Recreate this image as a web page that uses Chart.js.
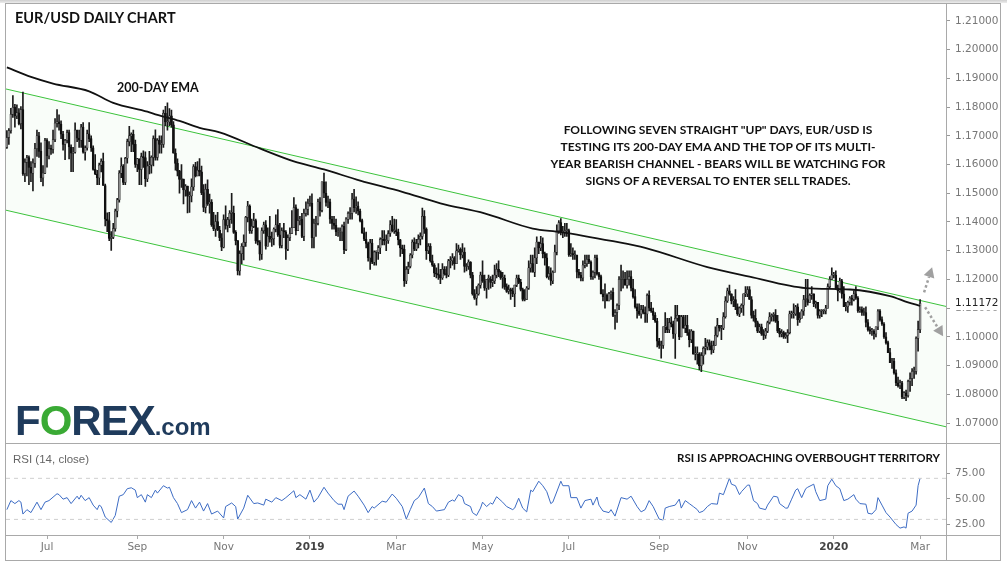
<!DOCTYPE html>
<html>
<head>
<meta charset="utf-8">
<title>EUR/USD Daily Chart</title>
<script src="https://cdn.jsdelivr.net/npm/chart.js@4.4.0/dist/chart.umd.min.js"></script>
<style>
  html, body { margin: 0; padding: 0; }
  body { width: 1007px; height: 563px; overflow: hidden; background: #fff; position: relative; font-family: "Lato", "Liberation Sans", sans-serif; }
  canvas { position: absolute; left: 0; }
  #main { top: 0; }
  #rsi { top: 443px; }
  .line { position: absolute; background: #a9a9a9; }
  .txt { position: absolute; color: #111; font-weight: bold; white-space: nowrap; }
  #topStrip { position: absolute; left: 0; top: 0; width: 1007px; height: 3px; background: linear-gradient(#cfcfcf, #ececec); }
  #frame { position: absolute; left: 5px; top: 3px; width: 996px; height: 558px; border: 1px solid #a9a9a9; box-sizing: border-box; pointer-events: none; }
  #logo { position: absolute; left: 15px; top: 400px; font-family: "Liberation Sans", Arial, sans-serif; font-weight: bold; font-size: 42px; line-height: 42px; color: #1f3b5c; letter-spacing: -1px; white-space: nowrap; }
  #logo .o { color: #3aaa35; }
  #logo .com { font-size: 24px; letter-spacing: 0; }
</style>
</head>
<body>
<div id="topStrip"></div>
<canvas id="main" width="1007" height="443"></canvas>
<canvas id="rsi" width="1007" height="120"></canvas>
<div id="frame"></div>
<div class="line" style="left:946px;top:3px;width:1px;height:557px;"></div>
<div class="line" style="left:5px;top:443px;width:995px;height:1px;"></div>
<div class="line" style="left:5px;top:535px;width:995px;height:1px;"></div>

<div class="txt" style="left:15px;top:9px;font-size:14.5px;line-height:18px;">EUR/USD DAILY CHART</div>
<div class="txt" style="left:117px;top:80px;font-size:12.5px;line-height:16px;">200-DAY EMA</div>
<div class="txt" style="left:518px;top:121px;width:400px;text-align:center;font-size:12px;line-height:17px;">
  FOLLOWING SEVEN STRAIGHT "UP" DAYS, EUR/USD IS<br>
  TESTING ITS 200-DAY EMA AND THE TOP OF ITS MULTI-<br>
  YEAR BEARISH CHANNEL - BEARS WILL BE WATCHING FOR<br>
  SIGNS OF A REVERSAL TO ENTER SELL TRADES.
</div>
<div id="logo">F<span class="o">O</span>REX<span class="com">.com</span></div>
<div class="txt" style="left:13px;top:452px;font-size:11.5px;line-height:14px;font-weight:normal;color:#666;font-family:'Liberation Sans',Arial,sans-serif;">RSI (14, close)</div>
<div class="txt" style="right:67px;top:451px;font-size:11.5px;line-height:14px;">RSI IS APPROACHING OVERBOUGHT TERRITORY</div>

<script>
// first trading day shown, daily bars on weekdays
const startDate = '2018-06-04';
const firstOpen = 1.1660;
const lastPrice = 1.11172;

// daily closes, Jun 2018 .. Mar 2 2020 (one line per month)
const closes = [
  1.1694,1.1718,1.1775,1.1799,1.1769,1.1780,1.1742,1.1791,1.1568,1.1608,1.1624,1.1590,1.1570,1.1605,1.1655,1.1700,1.1646,1.1553,1.1570,1.1684,
  1.1630,1.1656,1.1653,1.1687,1.1744,1.1749,1.1741,1.1706,1.1670,1.1684,1.1711,1.1661,1.1640,1.1643,1.1720,1.1692,1.1685,1.1730,1.1643,1.1658,1.1707,1.1690,
  1.1658,1.1583,1.1567,1.1553,1.1598,1.1611,1.1527,1.1410,1.1405,1.1343,1.1346,1.1377,1.1438,1.1477,1.1570,1.1595,1.1538,1.1622,1.1680,1.1700,1.1705,1.1670,1.1600,
  1.1620,1.1583,1.1628,1.1624,1.1550,1.1595,1.1599,1.1625,1.1690,1.1625,1.1684,1.1670,1.1670,1.1778,1.1748,1.1748,1.1770,1.1738,1.1640,1.1604,
  1.1577,1.1548,1.1549,1.1512,1.1525,1.1490,1.1491,1.1522,1.1593,1.1560,1.1580,1.1575,1.1502,1.1451,1.1514,1.1463,1.1469,1.1390,1.1376,1.1401,1.1372,1.1345,1.1312,
  1.1408,1.1388,1.1408,1.1430,1.1430,1.1364,1.1335,1.1230,1.1290,1.1315,1.1329,1.1416,1.1455,1.1370,1.1385,1.1405,1.1335,1.1330,1.1288,1.1370,1.1390,1.1316,
  1.1350,1.1340,1.1342,1.1375,1.1390,1.1355,1.1318,1.1370,1.1365,1.1305,1.1345,1.1360,1.1380,1.1450,1.1370,1.1405,1.1410,1.1350,1.1430,1.1445,1.1465,
  1.1465,1.1345,1.1395,1.1395,1.1470,1.1440,1.1540,1.1500,1.1468,1.1470,1.1410,1.1395,1.1388,1.1365,1.1365,1.1365,1.1385,1.1304,1.1410,1.1430,1.1430,1.1480,1.1450,
  1.1455,1.1438,1.1405,1.1362,1.1340,1.1325,1.1275,1.1327,1.1260,1.1295,1.1295,1.1310,1.1340,1.1340,1.1335,1.1335,1.1360,1.1390,1.1370,1.1370,
  1.1365,1.1338,1.1310,1.1305,1.1195,1.1235,1.1245,1.1285,1.1330,1.1305,1.1325,1.1340,1.1350,1.1420,1.1375,1.1300,1.1315,1.1265,1.1250,1.1222,1.1218,
  1.1215,1.1205,1.1235,1.1220,1.1215,1.1265,1.1265,1.1275,1.1255,1.1300,1.1305,1.1285,1.1295,1.1245,1.1245,1.1260,1.1215,1.1150,1.1135,1.1150,1.1180,1.1215,
  1.1195,1.1170,1.1200,1.1200,1.1190,1.1195,1.1215,1.1235,1.1225,1.1205,1.1205,1.1175,1.1158,1.1165,1.1160,1.1150,1.1180,1.1205,1.1190,1.1165,1.1130,1.1130,1.1170,
  1.1240,1.1255,1.1225,1.1275,1.1330,1.1310,1.1325,1.1290,1.1275,1.1210,1.1220,1.1195,1.1225,1.1295,1.1370,1.1398,1.1365,1.1365,1.1370,1.1370,
  1.1285,1.1290,1.1285,1.1285,1.1225,1.1215,1.1205,1.1250,1.1255,1.1270,1.1260,1.1210,1.1225,1.1275,1.1220,1.1210,1.1150,1.1140,1.1145,1.1125,1.1150,1.1155,1.1075,
  1.1085,1.1110,1.1200,1.1200,1.1200,1.1180,1.1200,1.1210,1.1170,1.1140,1.1105,1.1090,1.1080,1.1095,1.1085,1.1080,1.1145,1.1100,1.1090,1.1075,1.1055,1.0985,
  1.0970,1.0970,1.1035,1.1035,1.1025,1.1050,1.1045,1.1010,1.1065,1.1075,1.1000,1.1070,1.1030,1.1040,1.1015,1.0990,1.1020,1.0940,1.0940,1.0940,1.0900,
  1.0935,1.0960,1.0965,1.0980,1.0970,1.0955,1.0970,1.1005,1.1040,1.1030,1.1030,1.1070,1.1125,1.1160,1.1150,1.1125,1.1130,1.1105,1.1080,1.1100,1.1110,1.1150,1.1150,
  1.1165,1.1130,1.1075,1.1065,1.1050,1.1020,1.1035,1.1010,1.1005,1.1020,1.1050,1.1070,1.1075,1.1075,1.1055,1.1020,1.1010,1.1015,1.1000,1.1005,1.1015,
  1.1080,1.1080,1.1080,1.1105,1.1060,1.1065,1.1090,1.1130,1.1130,1.1120,1.1145,1.1150,1.1115,1.1120,1.1075,1.1090,1.1090,1.1090,1.1100,1.1175,1.1200,1.1215,
  1.1215,1.1170,1.1160,1.1195,1.1150,1.1105,1.1105,1.1120,1.1135,1.1130,1.1150,1.1135,1.1090,1.1095,1.1085,1.1085,1.1050,1.1025,1.1020,1.1020,1.1010,1.1035,1.1090,
  1.1060,1.1045,1.1000,1.0980,1.0945,1.0910,1.0915,1.0875,1.0840,1.0830,1.0840,1.0790,1.0805,1.0795,1.0845,1.0855,1.0880,1.0880,1.0995,1.1025,
  1.1117
];

const highs = [
  1.1718,1.1725,1.1796,1.1840,1.1810,1.1808,1.1795,1.1802,1.1852,1.1620,1.1632,1.1630,1.1610,1.1620,1.1674,1.1720,1.1712,1.1676,1.1596,1.1691,
  1.1690,1.1680,1.1668,1.1720,1.1760,1.1791,1.1773,1.1752,1.1716,1.1688,1.1720,1.1720,1.1669,1.1660,1.1745,1.1720,1.1720,1.1740,1.1746,1.1665,1.1720,1.1746,
  1.1700,1.1665,1.1635,1.1580,1.1605,1.1620,1.1640,1.1532,1.1432,1.1434,1.1367,1.1395,1.1445,1.1482,1.1579,1.1623,1.1600,1.1625,1.1689,1.1733,1.1710,1.1720,1.1685,
  1.1622,1.1620,1.1640,1.1648,1.1644,1.1610,1.1646,1.1630,1.1700,1.1721,1.1690,1.1700,1.1700,1.1790,1.1803,1.1815,1.1795,1.1790,1.1750,1.1655,
  1.1620,1.1580,1.1600,1.1545,1.1530,1.1505,1.1505,1.1550,1.1600,1.1608,1.1610,1.1621,1.1595,1.1530,1.1532,1.1547,1.1497,1.1478,1.1434,1.1424,1.1434,1.1385,1.1360,
  1.1425,1.1456,1.1416,1.1440,1.1500,1.1455,1.1370,1.1335,1.1300,1.1325,1.1355,1.1420,1.1472,1.1460,1.1410,1.1430,1.1410,1.1380,1.1335,1.1380,1.1400,1.1405,
  1.1380,1.1420,1.1365,1.1380,1.1425,1.1443,1.1395,1.1380,1.1395,1.1370,1.1355,1.1380,1.1440,1.1485,1.1460,1.1445,1.1420,1.1430,1.1445,1.1470,1.1480,
  1.1490,1.1498,1.1410,1.1420,1.1480,1.1485,1.1540,1.1570,1.1540,1.1490,1.1480,1.1420,1.1420,1.1410,1.1380,1.1380,1.1390,1.1400,1.1415,1.1435,1.1450,1.1500,1.1514,
  1.1488,1.1470,1.1445,1.1410,1.1380,1.1365,1.1330,1.1340,1.1340,1.1300,1.1300,1.1318,1.1345,1.1370,1.1370,1.1355,1.1370,1.1405,1.1420,1.1410,
  1.1408,1.1375,1.1340,1.1320,1.1320,1.1245,1.1260,1.1290,1.1338,1.1345,1.1340,1.1355,1.1362,1.1448,1.1440,1.1380,1.1325,1.1325,1.1285,1.1255,1.1240,
  1.1255,1.1235,1.1255,1.1245,1.1245,1.1270,1.1280,1.1290,1.1280,1.1325,1.1320,1.1310,1.1325,1.1310,1.1255,1.1268,1.1262,1.1225,1.1165,1.1175,1.1185,1.1226,
  1.1265,1.1215,1.1200,1.1215,1.1210,1.1215,1.1250,1.1255,1.1265,1.1230,1.1225,1.1215,1.1185,1.1180,1.1170,1.1170,1.1175,1.1215,1.1215,1.1200,1.1170,1.1165,1.1175,
  1.1265,1.1285,1.1285,1.1310,1.1348,1.1330,1.1350,1.1345,1.1295,1.1290,1.1245,1.1240,1.1230,1.1320,1.1390,1.1405,1.1412,1.1385,1.1395,1.1395,
  1.1375,1.1325,1.1310,1.1300,1.1285,1.1235,1.1225,1.1265,1.1285,1.1285,1.1285,1.1265,1.1230,1.1285,1.1285,1.1225,1.1215,1.1165,1.1185,1.1150,1.1155,1.1160,1.1170,
  1.1095,1.1115,1.1210,1.1250,1.1230,1.1225,1.1230,1.1230,1.1230,1.1200,1.1165,1.1115,1.1115,1.1110,1.1110,1.1105,1.1150,1.1160,1.1120,1.1100,1.1085,1.1065,
  1.0995,1.0985,1.1035,1.1085,1.1065,1.1065,1.1070,1.1055,1.1110,1.1110,1.1070,1.1075,1.1075,1.1075,1.1075,1.1025,1.1025,1.1015,1.0965,1.0965,1.0945,
  1.0945,1.0965,1.0995,1.0990,1.0990,1.0985,1.0985,1.1035,1.1065,1.1040,1.1040,1.1085,1.1140,1.1170,1.1180,1.1150,1.1140,1.1165,1.1115,1.1105,1.1115,1.1145,1.1175,
  1.1175,1.1175,1.1140,1.1090,1.1095,1.1055,1.1045,1.1045,1.1025,1.1030,1.1055,1.1085,1.1080,1.1085,1.1095,1.1075,1.1030,1.1025,1.1020,1.1015,1.1025,
  1.1090,1.1090,1.1115,1.1110,1.1115,1.1085,1.1095,1.1145,1.1200,1.1200,1.1150,1.1175,1.1150,1.1125,1.1120,1.1095,1.1095,1.1095,1.1110,1.1185,1.1210,1.1240,
  1.1225,1.1230,1.1180,1.1205,1.1200,1.1175,1.1120,1.1125,1.1140,1.1145,1.1160,1.1175,1.1140,1.1105,1.1105,1.1100,1.1105,1.1060,1.1035,1.1030,1.1025,1.1035,1.1095,
  1.1095,1.1070,1.1050,1.1015,1.0985,1.0960,1.0925,1.0925,1.0885,1.0860,1.0850,1.0845,1.0810,1.0815,1.0850,1.0875,1.0890,1.0895,1.1000,1.1055,
  1.1130
];

const lows = [
  1.1656,1.1670,1.1709,1.1764,1.1730,1.1760,1.1738,1.1724,1.1562,1.1540,1.1560,1.1530,1.1540,1.1508,1.1590,1.1628,1.1625,1.1540,1.1526,1.1568,
  1.1591,1.1620,1.1635,1.1640,1.1680,1.1730,1.1720,1.1690,1.1650,1.1617,1.1675,1.1620,1.1575,1.1575,1.1640,1.1680,1.1660,1.1660,1.1640,1.1615,1.1650,1.1680,
  1.1646,1.1580,1.1565,1.1530,1.1530,1.1574,1.1528,1.1386,1.1366,1.1335,1.1301,1.1342,1.1368,1.1418,1.1469,1.1554,1.1530,1.1530,1.1605,1.1665,1.1645,1.1645,1.1590,
  1.1575,1.1530,1.1530,1.1590,1.1524,1.1540,1.1567,1.1570,1.1595,1.1615,1.1615,1.1640,1.1640,1.1660,1.1735,1.1720,1.1735,1.1730,1.1640,1.1580,
  1.1560,1.1500,1.1520,1.1463,1.1490,1.1432,1.1433,1.1470,1.1510,1.1557,1.1560,1.1560,1.1495,1.1436,1.1432,1.1458,1.1431,1.1385,1.1370,1.1350,1.1370,1.1335,1.1300,
  1.1310,1.1375,1.1365,1.1380,1.1395,1.1360,1.1320,1.1216,1.1215,1.1255,1.1268,1.1315,1.1400,1.1360,1.1360,1.1380,1.1325,1.1320,1.1267,1.1270,1.1360,1.1305,
  1.1320,1.1330,1.1315,1.1320,1.1365,1.1350,1.1310,1.1310,1.1345,1.1270,1.1300,1.1335,1.1360,1.1390,1.1355,1.1375,1.1390,1.1345,1.1335,1.1420,1.1425,
  1.1455,1.1310,1.1310,1.1350,1.1390,1.1420,1.1435,1.1485,1.1455,1.1450,1.1395,1.1375,1.1375,1.1352,1.1350,1.1335,1.1335,1.1290,1.1300,1.1395,1.1410,1.1410,1.1435,
  1.1430,1.1425,1.1400,1.1360,1.1335,1.1310,1.1264,1.1235,1.1255,1.1250,1.1250,1.1270,1.1290,1.1320,1.1320,1.1300,1.1325,1.1350,1.1365,1.1360,
  1.1352,1.1320,1.1280,1.1290,1.1176,1.1185,1.1220,1.1240,1.1275,1.1300,1.1300,1.1310,1.1320,1.1340,1.1360,1.1270,1.1290,1.1260,1.1245,1.1210,1.1205,
  1.1200,1.1185,1.1200,1.1215,1.1205,1.1210,1.1240,1.1250,1.1235,1.1255,1.1295,1.1270,1.1275,1.1225,1.1230,1.1235,1.1205,1.1145,1.1130,1.1110,1.1145,1.1170,
  1.1190,1.1162,1.1135,1.1165,1.1170,1.1175,1.1185,1.1205,1.1210,1.1200,1.1170,1.1165,1.1155,1.1150,1.1130,1.1140,1.1105,1.1175,1.1185,1.1160,1.1125,1.1125,1.1135,
  1.1165,1.1225,1.1225,1.1210,1.1255,1.1290,1.1300,1.1275,1.1250,1.1205,1.1200,1.1180,1.1185,1.1225,1.1285,1.1360,1.1355,1.1345,1.1350,1.1350,
  1.1280,1.1280,1.1270,1.1270,1.1205,1.1205,1.1195,1.1195,1.1240,1.1245,1.1255,1.1200,1.1200,1.1205,1.1215,1.1200,1.1150,1.1125,1.1100,1.1125,1.1125,1.1130,1.1070,
  1.1027,1.1050,1.1095,1.1160,1.1170,1.1180,1.1170,1.1180,1.1160,1.1135,1.1100,1.1065,1.1075,1.1065,1.1080,1.1050,1.1050,1.1090,1.1085,1.1060,1.1050,1.0965,
  1.0960,1.0926,1.0960,1.1015,1.1015,1.1015,1.1035,1.0995,1.0925,1.1055,1.0990,1.1000,1.1030,1.1015,1.1005,1.0965,1.0980,1.0940,1.0920,1.0905,1.0885,
  1.0879,1.0905,1.0940,1.0955,1.0955,1.0940,1.0945,1.0970,1.1000,1.1020,1.0990,1.1025,1.1065,1.1120,1.1145,1.1115,1.1105,1.1095,1.1075,1.1070,1.1085,1.1075,1.1140,
  1.1140,1.1130,1.1065,1.1055,1.1035,1.1015,1.1015,1.1005,1.0990,1.0995,1.1015,1.1045,1.1055,1.1055,1.1050,1.1015,1.1000,1.1000,1.0995,1.0995,1.0980,
  1.1010,1.1065,1.1065,1.1075,1.1040,1.1050,1.1065,1.1075,1.1105,1.1110,1.1125,1.1130,1.1105,1.1100,1.1065,1.1065,1.1070,1.1080,1.1080,1.1100,1.1170,1.1200,
  1.1205,1.1165,1.1125,1.1155,1.1135,1.1105,1.1090,1.1085,1.1110,1.1110,1.1125,1.1130,1.1085,1.1085,1.1075,1.1075,1.1035,1.1020,1.1010,1.1005,1.0992,1.1000,1.1025,
  1.1055,1.1040,1.0995,1.0975,1.0945,1.0910,1.0890,1.0870,1.0830,1.0825,1.0820,1.0785,1.0785,1.0778,1.0790,1.0810,1.0830,1.0855,1.0870,1.0950,
  1.1015
];

// 200-day EMA (bar index, value)
const emaDays   = [0, 12, 23, 41, 53, 70, 75, 86, 96, 106, 126, 143, 158, 176, 197, 216, 238, 262, 276, 302, 318, 349, 370, 398, 420, 440, 449, 455];
const emaValues = [1.1938, 1.1905, 1.1882, 1.1855, 1.1815, 1.1784, 1.1773, 1.1752, 1.1728, 1.1712, 1.1656, 1.1611, 1.1583, 1.1544, 1.1505, 1.1465, 1.1430, 1.1377, 1.1365, 1.1333, 1.1310, 1.1243, 1.1210, 1.1170, 1.1165, 1.1142, 1.1120, 1.1108];

// bearish channel end points (bar index at left / right edge of the plot)
const channelDays   = [-0.43, 467.9];
const channelTop    = [1.1863, 1.1106];
const channelBottom = [1.1441, 1.0687];

// RSI(14) (bar index, value)
const rsiDays = [0,2,4,6,7,8,10,12,15,17,19,21,25,26,28,30,32,35,36,37,39,41,43,45,46,47,49,52,54,56,58,60,62,64,65,67,69,70,72,74,75,78,80,81,83,85,87,90,92,94,96,98,100,102,105,108,109,112,114,115,118,120,123,125,128,129,132,134,137,139,143,144,146,149,151,153,155,158,160,163,165,167,168,170,173,175,178,180,182,183,187,189,192,194,197,199,201,203,205,208,210,212,214,218,220,222,223,225,227,228,231,232,234,236,237,239,241,242,244,247,249,252,253,255,257,259,261,262,265,267,269,271,272,276,277,280,281,284,286,288,291,292,294,295,297,300,301,303,306,309,311,314,316,318,320,322,325,327,328,330,333,335,336,338,340,342,344,345,347,349,351,354,355,357,360,361,363,365,366,369,370,372,374,375,378,379,382,384,385,388,389,391,393,394,396,398,399,402,403,405,408,409,411,413,415,417,419,422,423,425,428,429,431,433,434,436,438,440,443,445,447,448,449,451,453,454,455];
const rsiValues = [39.5,48.3,45.4,48.3,46.8,35.2,39.5,36.6,46.8,39.5,46.8,48.3,55,54.1,49.7,51.2,45.4,52.6,49.7,53.5,48.3,51.2,43.9,39.5,43.9,42.5,32.3,27,33.8,52.6,54.1,59.9,60.8,58.5,51.2,54.1,46.8,54.1,51.2,58.5,55.6,62.8,60.5,61.3,51.2,45.4,36.6,39.5,48.3,41,46.8,38.1,45.4,35.2,38.1,31.4,42.5,46,42.5,30.3,41,53.5,45.4,46,43.9,49.7,46.8,51.2,48.3,51.2,57.9,51.2,54.1,49.7,58.5,46.8,51.2,61.3,55.6,48.3,44.8,44.8,39.5,52.6,57.6,52.6,43.9,36.6,42.5,41,47.7,46.8,54.7,50.6,42.5,30.3,39.5,48.3,51.2,60.5,45.4,42.5,38.1,39.5,46.8,48.9,47.7,54.1,51.8,45.4,42.5,36.6,33.8,41,46.8,42.5,46,44.8,52.1,46.8,42.5,39.5,41,50.6,41,37.3,58.5,57,67.2,62.8,57,45.4,46.8,67.2,62.8,62.8,51.2,51.2,41,48.3,49.7,43.9,51.8,43.9,38.1,36.6,39.5,33.2,51.2,49.7,52.6,42.5,37.3,39.5,48.3,42.5,30.3,29.4,41,42.5,43.9,49.7,41,48.3,45.4,42.5,39.5,36.6,38.1,42.5,45.4,44.8,55.6,54.1,70.1,64.3,62.8,54.1,57,63.4,63.4,48.3,45.4,41,39.5,43.9,52.6,51.8,45.4,41,41,49.7,58.5,59.9,51.2,59.9,61.3,64.3,57,48.3,49.7,62.8,69.2,62.8,59.9,48.3,49.7,54.1,49.7,45.4,44.8,36,35.2,39.5,51.2,43.9,36.6,32.3,25,21.5,22.7,21.5,36,38.1,43.9,62.8,70.1];
const rsiBands = [70, 30];

// axis ticks
const priceTicks = [1.21, 1.20, 1.19, 1.18, 1.17, 1.16, 1.15, 1.14, 1.13, 1.12, 1.11, 1.10, 1.09, 1.08, 1.07];
const rsiTicks = [25, 50, 75];
const tickMonths = ['2018-07', '2018-09', '2018-11', '2019-01', '2019-03', '2019-05', '2019-07', '2019-09', '2019-11', '2020-01', '2020-03'];
const tickLabels = ['Jul', 'Sep', 'Nov', '2019', 'Mar', 'May', 'Jul', 'Sep', 'Nov', '2020', 'Mar'];

// weekday calendar for the bars
const dates = [];
let day = new Date(startDate + 'T00:00:00Z');
while (dates.length < closes.length) {
  const wd = day.getUTCDay();
  if (wd !== 0 && wd !== 6) dates.push(day.toISOString().slice(0, 7));
  day = new Date(day.getTime() + 86400000);
}
const tickIdx = tickMonths.map(m => dates.indexOf(m));

// FX daily bars open at the previous close
const opens = closes.map((c, i) => i === 0 ? firstOpen : closes[i - 1]);

const X_MIN = -0.43, X_MAX = 467.9;
const axisFont = { family: 'DejaVu Sans', size: 10.5 };
const green = '#3cc33c';

function drawArrow(ctx, x1, y1, x2, y2) {
  const a = Math.atan2(y2 - y1, x2 - x1);
  const head = 10;
  const bx = x2 - head * Math.cos(a), by = y2 - head * Math.sin(a);
  ctx.save();
  ctx.strokeStyle = '#a0a0a0';
  ctx.fillStyle = '#a0a0a0';
  ctx.lineWidth = 2.5;
  ctx.setLineDash([2.5, 2.5]);
  ctx.beginPath();
  ctx.moveTo(x1, y1);
  ctx.lineTo(bx, by);
  ctx.stroke();
  ctx.setLineDash([]);
  ctx.beginPath();
  ctx.moveTo(x2, y2);
  ctx.lineTo(bx + 5.5 * Math.sin(a), by - 5.5 * Math.cos(a));
  ctx.lineTo(bx - 5.5 * Math.sin(a), by + 5.5 * Math.cos(a));
  ctx.closePath();
  ctx.fill();
  ctx.restore();
}

// arrows at the last bar and the live price tag
const overlayPlugin = {
  id: 'overlay',
  afterDraw(chart) {
    const { ctx, scales: { x, y } } = chart;
    const last = closes.length - 1;
    const px = x.getPixelForValue(last);
    const py = y.getPixelForValue(closes[last]);
    drawArrow(ctx, px + 4, py - 11, px + 12, py - 36);
    drawArrow(ctx, px + 5, py + 4, px + 23, py + 33);

    const ty = y.getPixelForValue(lastPrice);
    ctx.save();
    ctx.fillStyle = '#fff';
    ctx.fillRect(y.left + 5, ty - 7, 48, 14);
    ctx.fillStyle = '#222';
    ctx.font = '10.5px "DejaVu Sans"';
    ctx.textBaseline = 'middle';
    ctx.fillText(lastPrice.toFixed(5), y.left + 9, ty);
    ctx.restore();
  }
};

new Chart(document.getElementById('main'), {
  type: 'bar',
  data: {
    datasets: [
      {
        type: 'line',
        data: channelDays.map((d, i) => ({ x: d, y: channelTop[i] })),
        borderColor: green, borderWidth: 1, pointRadius: 0, fill: false, order: 10
      },
      {
        type: 'line',
        data: channelDays.map((d, i) => ({ x: d, y: channelBottom[i] })),
        borderColor: green, borderWidth: 1, pointRadius: 0,
        fill: '-1', backgroundColor: 'rgba(60,180,60,0.03)', order: 9
      },
      {
        // wicks
        data: closes.map((c, i) => ({ x: i, y: [Math.min(lows[i], opens[i], c), Math.max(highs[i], opens[i], c)] })),
        backgroundColor: '#1a1a1a', barThickness: 1, grouped: false, order: 3
      },
      {
        // bodies
        data: closes.map((c, i) => ({ x: i, y: [opens[i], c] })),
        backgroundColor: closes.map((c, i) => c >= opens[i] ? '#8c8c8c' : '#111'),
        borderColor: '#111', borderWidth: 0.5, borderSkipped: false,
        barThickness: 2, minBarLength: 1, grouped: false, order: 2
      },
      {
        type: 'line',
        data: emaDays.map((d, i) => ({ x: d, y: emaValues[i] })),
        borderColor: '#111', borderWidth: 1.8, pointRadius: 0, tension: 0.4,
        cubicInterpolationMode: 'monotone', fill: false, order: 1
      }
    ]
  },
  options: {
    responsive: false,
    animation: false,
    events: [],
    layout: { padding: { left: 6, right: 7, top: 4, bottom: 2 } },
    plugins: { legend: { display: false }, tooltip: { enabled: false } },
    scales: {
      x: { type: 'linear', min: X_MIN, max: X_MAX, offset: false, bounds: 'data', display: false },
      y: {
        position: 'right',
        min: 1.06699, max: 1.21335,
        bounds: 'data',
        afterFit(s) { s.width = 54; },
        afterBuildTicks(s) { s.ticks = priceTicks.map(v => ({ value: v })); },
        ticks: { callback: v => v.toFixed(5), color: '#777', font: axisFont, padding: 5 },
        grid: { drawOnChartArea: false, drawTicks: true, tickLength: 4, color: '#999' },
        border: { display: false }
      }
    }
  },
  plugins: [overlayPlugin]
});

new Chart(document.getElementById('rsi'), {
  type: 'line',
  data: {
    datasets: [
      ...rsiBands.map(b => ({
        data: [{ x: X_MIN, y: b }, { x: X_MAX, y: b }],
        borderColor: '#cfcfcf', borderWidth: 1, borderDash: [4, 4], pointRadius: 0, fill: false
      })),
      {
        data: rsiDays.map((d, i) => ({ x: d, y: rsiValues[i] })),
        borderColor: '#3d6cc4', borderWidth: 1, pointRadius: 0, tension: 0, fill: false
      }
    ]
  },
  options: {
    responsive: false,
    animation: false,
    events: [],
    layout: { padding: { left: 6, right: 7, top: 2, bottom: 3 } },
    plugins: { legend: { display: false }, tooltip: { enabled: false } },
    scales: {
      x: {
        type: 'linear', min: X_MIN, max: X_MAX, offset: false, bounds: 'data',
        afterFit(s) { s.height = 25; },
        afterBuildTicks(s) { s.ticks = tickIdx.map(v => ({ value: v })); },
        ticks: {
          autoSkip: false, maxRotation: 0, padding: 2,
          callback: (v, i) => tickLabels[i],
          color: ctx => /^\d{4}$/.test(tickLabels[ctx.index]) ? '#444' : '#777',
          font: ctx => ({ family: 'DejaVu Sans', size: 10.5, weight: /^\d{4}$/.test(tickLabels[ctx.index]) ? 'bold' : 'normal' })
        },
        grid: { drawOnChartArea: false, drawTicks: true, tickLength: 4, color: '#aaa' },
        border: { display: false }
      },
      y: {
        position: 'right',
        min: 14.8, max: 93.4, bounds: 'data',
        afterFit(s) { s.width = 54; },
        afterBuildTicks(s) { s.ticks = rsiTicks.map(v => ({ value: v })); },
        ticks: { callback: v => v.toFixed(2), color: '#777', font: axisFont, padding: 5 },
        grid: { drawOnChartArea: false, drawTicks: true, tickLength: 4, color: '#999' },
        border: { display: false }
      }
    }
  }
});
</script>
</body>
</html>
